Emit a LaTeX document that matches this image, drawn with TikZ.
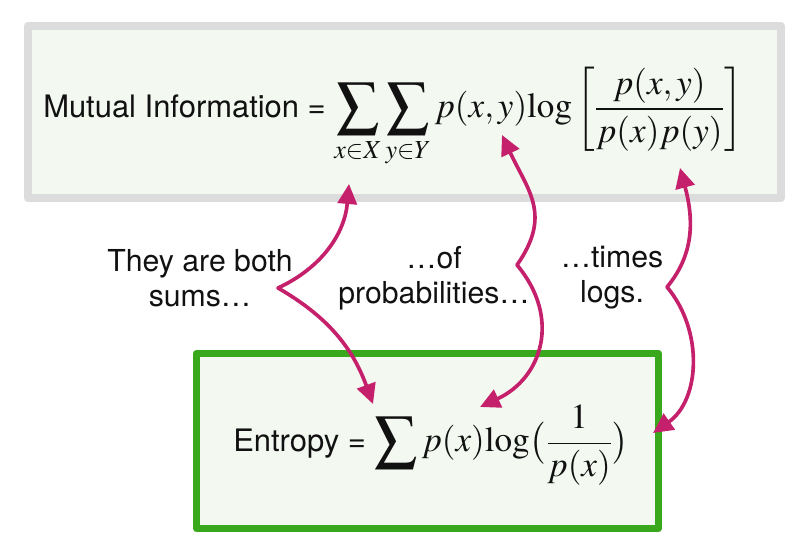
\documentclass[tikz,border=0pt]{standalone}
\usepackage{amsmath}
\usepackage{mathptmx}
\usepackage[no-math]{fontspec}
\setmainfont{TeX Gyre Heros}
\usetikzlibrary{arrows.meta}
\definecolor{Ink}{HTML}{111111}
\definecolor{Link}{HTML}{C5206B}
\definecolor{BoxBg}{HTML}{F3F8F0}
\definecolor{MiBorder}{HTML}{DCDCDC}
\definecolor{EntBorder}{HTML}{3AA81C}
\tikzset{
  mi box/.style={draw=MiBorder,fill=BoxBg,line width=0.20cm},
  ent box/.style={draw=EntBorder,fill=BoxBg,line width=0.175cm},
  formula/.style={anchor=base west,inner sep=0pt,text=Ink,font=\fontsize{22}{26}\selectfont},
  note/.style={align=center,text=Ink,font=\fontsize{21.5}{25}\selectfont},
  fork link/.style={draw=Link,line width=2.6pt,-{Triangle[length=0.5cm,width=0.48cm]}}
}
\newcommand{\MathBig}{\fontsize{25}{30}\selectfont}
\newcommand{\BigSum}{\mathop{\vcenter{\hbox{\scalebox{1.2}{$\displaystyle\sum$}}}}\limits}
\newcommand{\Lg}{\mathrm{log}}

\begin{document}
\begin{tikzpicture}[x=1cm,y=1cm,line cap=round,line join=round]
  \useasboundingbox (0,0) rectangle (20,13.75);

  % boxes
  \draw[mi box] (0.70,8.80) rectangle (19.525,13.10);
  \draw[ent box] (4.9125,0.5375) rectangle (16.4625,4.9125);

  % formulas
  \node[formula] (mi) at (1.075,10.80) {Mutual Information = {\MathBig$\displaystyle\BigSum_{x\in X}\BigSum_{y\in Y}p(x,y)\Lg\left[\frac{p(x,y)}{p(x)p(y)}\right]$}};
  \node[formula] (ent) at (5.825,2.45) {Entropy = {\MathBig$\displaystyle\BigSum p(x)\Lg\bigl(\frac{1}{p(x)}\bigr)$}};

  % notes
  \node[note] (sumsNote) at (5.0,6.80) {They are both\\sums…};
  \node[note] (probNote) at (10.85,6.80) {…of\\probabilities…};
  \node[note] (logsNote) at (15.3,6.80) {…times\\logs.};

  % forks
  \coordinate (sumsFork) at (6.95,6.55);
  \coordinate (sumsTop) at (8.725,9.15);
  \coordinate (sumsBot) at (9.325,3.65);
  \coordinate (probFork) at (12.925,7.125);
  \coordinate (probTop) at (12.55,10.375);
  \coordinate (probBot) at (12.0,3.575);
  \coordinate (logsFork) at (16.675,6.575);
  \coordinate (logsTop) at (17.0,9.55);
  \coordinate (logsBot) at (16.325,2.925);

  \draw[fork link] (sumsFork) to[out=25,in=-95] (sumsTop);
  \draw[fork link] (sumsFork) to[out=-30,in=110] (sumsBot);
  \draw[fork link] (probFork) to[out=55,in=-65,looseness=1.2] (probTop);
  \draw[fork link] (probFork) to[out=-50,in=25,looseness=1.2] (probBot);
  \draw[fork link] (logsFork) to[out=50,in=-75] (logsTop);
  \draw[fork link] (logsFork) to[out=-50,in=35] (logsBot);
\end{tikzpicture}
\end{document}
